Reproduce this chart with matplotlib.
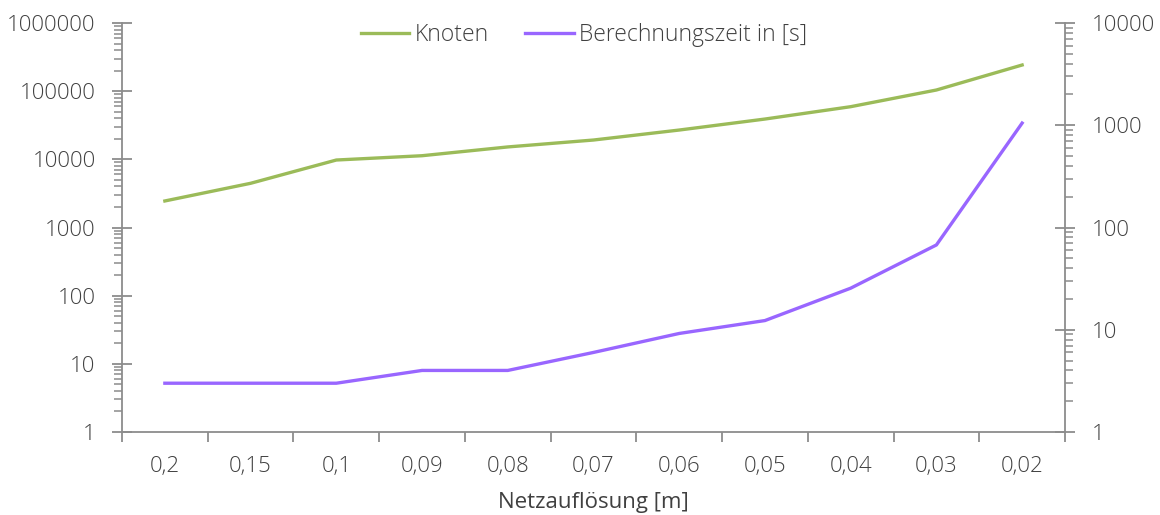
import matplotlib
matplotlib.use("Agg")
import matplotlib.pyplot as plt
from matplotlib.ticker import LogLocator, FixedLocator, NullFormatter, FuncFormatter
import numpy as np

categories = ["0,2", "0,15", "0,1", "0,09", "0,08", "0,07", "0,06", "0,05", "0,04", "0,03", "0,02"]
knoten = [2450, 4450, 9770, 11300, 15200, 19200, 26900, 39000, 59200, 104000, 242000]
zeit = [3, 3, 3, 4, 4, 6, 9.2, 12.3, 25.5, 67.5, 1050]

green = "#9BBB59"
purple = "#9966FF"
axis_col = "#8C8C8C"
text_col = "#404040"

plt.rcParams['font.family'] = ['Open Sans', 'DejaVu Sans']
plt.rcParams['font.weight'] = 'light'

fig = plt.figure(figsize=(11.6, 5.15), dpi=100)
ax = fig.add_axes([122/1160, 83/515, (1065-122)/1160, (432-23)/515])
ax2 = ax.twinx()

x = np.arange(len(categories))
l1, = ax.plot(x, knoten, color=green, lw=2.4, solid_joinstyle='round')
l2, = ax2.plot(x, zeit, color=purple, lw=2.4, solid_joinstyle='round')

ax.set_yscale('log')
ax2.set_yscale('log')
ax.set_ylim(1, 1e6)
ax2.set_ylim(1, 1e4)
ax.set_xlim(-0.5, len(categories) - 0.5)

fmt = FuncFormatter(lambda v, p: f"{int(round(v))}")
for a in (ax, ax2):
    a.yaxis.set_major_locator(LogLocator(base=10, numticks=20))
    a.yaxis.set_minor_locator(LogLocator(base=10, subs=np.arange(2, 10), numticks=20))
    a.yaxis.set_major_formatter(fmt)
    a.yaxis.set_minor_formatter(NullFormatter())
    for s in a.spines.values():
        s.set_visible(False)

ax.spines['left'].set_visible(True)
ax.spines['bottom'].set_visible(True)
ax2.spines['right'].set_visible(True)
for s in (ax.spines['left'], ax.spines['bottom'], ax2.spines['right']):
    s.set_color(axis_col)
    s.set_linewidth(1.3)

ax.tick_params(axis='y', which='major', direction='inout', length=14, width=1.3, color=axis_col,
               labelsize=16, labelcolor=text_col, pad=12)
ax.tick_params(axis='y', which='minor', direction='out', length=6, width=1.1, color=axis_col)
ax2.tick_params(axis='y', which='major', direction='inout', length=14, width=1.3, color=axis_col,
                labelsize=16, labelcolor=text_col, pad=12)
ax2.tick_params(axis='y', which='minor', direction='out', length=6, width=1.1, color=axis_col)

ax.xaxis.set_major_locator(FixedLocator(np.arange(-0.5, len(categories), 1.0)))
ax.xaxis.set_minor_locator(FixedLocator(x))
ax.xaxis.set_major_formatter(NullFormatter())
ax.set_xticks(x, categories, minor=True)
ax.tick_params(axis='x', which='major', direction='out', length=7, width=1.3, color=axis_col)
ax.tick_params(axis='x', which='minor', length=0, labelsize=16, labelcolor=text_col, pad=17)

ax.set_xlabel("Netzauflösung [m]", fontsize=16, color=text_col, labelpad=11)

leg = ax.legend([l1, l2], ["Knoten", "Berechnungszeit in [s]"], loc='upper center',
                bbox_to_anchor=(0.49, 1.05), ncol=2, frameon=False, fontsize=16.5,
                handlelength=2.1, columnspacing=1.6, handletextpad=0.25)
for t in leg.get_texts():
    t.set_color(text_col)

fig.savefig("out.png", dpi=100)
